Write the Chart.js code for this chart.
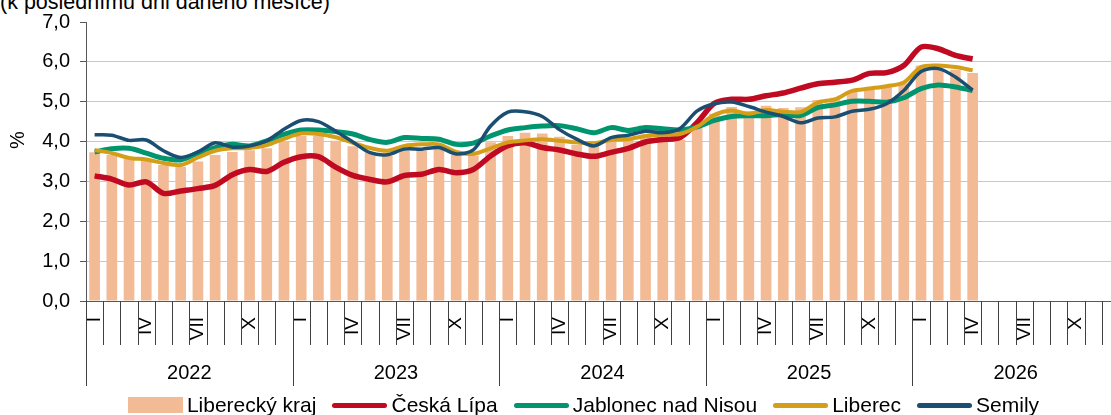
<!DOCTYPE html>
<html lang="cs">
<head>
<meta charset="utf-8">
<script src="https://cdn.jsdelivr.net/npm/chart.js@4.4.1/dist/chart.umd.min.js"></script>
<style>
    html, body { margin: 0; padding: 0; background: #fff; overflow: hidden; width: 1111px; height: 415px; }
    #wrap { position: absolute; left: 0; top: 0; width: 1190px; height: 415px; }
    #podtitul { position: absolute; left: 0; top: -10px; font: 21.5px "Liberation Sans", Arial, sans-serif; white-space: nowrap; color: #000; }
    #legenda { position: absolute; left: 0; top: 394px; width: 1167px; display: flex; justify-content: center; gap: 16px;
               font: 21px "Liberation Sans", Arial, sans-serif; line-height: 22px; color: #000; }
    #legenda span.pol { display: flex; align-items: center; gap: 4px; white-space: nowrap; }
    #legenda i { display: inline-block; width: 55px; }
</style>
</head>
<body>
<div id="podtitul">(k poslednímu dni daného měsíce)</div>
<div id="wrap"><canvas id="graf"></canvas></div>
<div id="legenda"></div>
<script>
// Podíl nezaměstnaných osob (%), měsíčně 2022 - 2026
const roky = ['2022', '2023', '2024', '2025', '2026'];
const mesice = ['I', '', '', 'IV', '', '', 'VII', '', '', 'X', '', ''];

const kraj = [
    3.73, 3.66, 3.57, 3.53, 3.41, 3.37, 3.50, 3.66, 3.74, 3.78, 3.83, 4.00,
    4.14, 4.14, 4.02, 3.88, 3.73, 3.65, 3.77, 3.77, 3.85, 3.66, 3.65, 3.98,
    4.14, 4.22, 4.20, 4.12, 3.92, 3.88, 4.05, 4.10, 4.17, 4.15, 4.05, 4.35,
    4.70, 4.87, 4.76, 4.90, 4.84, 4.86, 5.04, 5.10, 5.27, 5.31, 5.40, 5.46,
    5.91, 5.82, 5.80, 5.72
];
const ceskaLipa = [
    3.14, 3.06, 2.91, 2.99, 2.70, 2.76, 2.82, 2.90, 3.17, 3.30, 3.25, 3.48,
    3.62, 3.62, 3.36, 3.15, 3.05, 2.99, 3.15, 3.18, 3.30, 3.22, 3.30, 3.64,
    3.90, 3.97, 3.85, 3.79, 3.69, 3.63, 3.73, 3.83, 3.99, 4.05, 4.10, 4.48,
    4.96, 5.06, 5.06, 5.15, 5.22, 5.34, 5.45, 5.49, 5.54, 5.71, 5.73, 5.91,
    6.37, 6.33, 6.16, 6.07
];
const jablonec = [
    3.74, 3.82, 3.83, 3.71, 3.58, 3.54, 3.71, 3.85, 3.93, 3.89, 4.02, 4.18,
    4.29, 4.29, 4.25, 4.19, 4.05, 3.98, 4.10, 4.08, 4.06, 3.93, 3.96, 4.14,
    4.29, 4.35, 4.39, 4.40, 4.32, 4.22, 4.35, 4.28, 4.35, 4.32, 4.29, 4.37,
    4.53, 4.63, 4.65, 4.65, 4.68, 4.65, 4.85, 4.92, 5.01, 5.01, 4.99, 5.10,
    5.33, 5.42, 5.37, 5.28
];
const liberec = [
    3.79, 3.71, 3.59, 3.55, 3.46, 3.41, 3.60, 3.77, 3.83, 3.84, 3.91, 4.07,
    4.20, 4.19, 4.11, 3.97, 3.84, 3.77, 3.89, 3.93, 3.93, 3.74, 3.69, 3.83,
    3.98, 4.03, 4.06, 4.02, 3.98, 3.96, 4.04, 4.06, 4.14, 4.18, 4.19, 4.37,
    4.67, 4.78, 4.70, 4.79, 4.75, 4.74, 4.98, 5.06, 5.27, 5.33, 5.39, 5.48,
    5.87, 5.91, 5.87, 5.79
];
const semily = [
    4.17, 4.16, 4.03, 4.04, 3.77, 3.60, 3.74, 3.97, 3.86, 3.89, 4.02, 4.31,
    4.53, 4.50, 4.26, 3.99, 3.72, 3.67, 3.81, 3.81, 3.85, 3.69, 3.79, 4.39,
    4.74, 4.75, 4.63, 4.30, 4.06, 3.89, 4.10, 4.16, 4.26, 4.22, 4.33, 4.77,
    4.95, 4.99, 4.88, 4.74, 4.63, 4.47, 4.59, 4.62, 4.76, 4.81, 4.95, 5.28,
    5.76, 5.83, 5.62, 5.29
];

const FONT = '"Liberation Sans", Arial, sans-serif';
const labels = roky.flatMap(r => mesice.map((m, i) => (i + 1) + '/' + r));
const doplnit = a => a.concat(Array(labels.length - a.length).fill(null));

function cara(label, data, color, width, order) {
    return {
        type: 'line', label, data: doplnit(data),
        borderColor: color, backgroundColor: color, borderWidth: width,
        pointRadius: 0, tension: 0.3, fill: false, order
    };
}

const datasets = [
    { type: 'bar', label: 'Liberecký kraj', data: doplnit(kraj), backgroundColor: '#F2BB96',
      borderWidth: 0, barPercentage: 0.62, categoryPercentage: 1, order: 5 },
    cara('Česká Lípa', ceskaLipa, '#C00A22', 5.5, 4),
    cara('Jablonec nad Nisou', jablonec, '#00956E', 5, 3),
    cara('Liberec', liberec, '#D49E18', 4, 2),
    cara('Semily', semily, '#1B4F72', 3.5, 1)
];

// Popisky pod osou x: dělící čárky mezi měsíci, roky, titulek osy y
const kalendar = {
    id: 'kalendar',
    afterDraw(chart) {
        const { ctx, chartArea } = chart;
        const x = chart.scales.x;
        const krok = x.getPixelForValue(1) - x.getPixelForValue(0);
        const spodek = chartArea.bottom;
        ctx.save();
        ctx.strokeStyle = '#404040';
        ctx.lineWidth = 1;
        for (let i = 0; i <= labels.length; i++) {
            const px = Math.round(x.getPixelForValue(0) + (i - 0.5) * krok) + 0.5;
            ctx.beginPath();
            ctx.moveTo(px, spodek);
            ctx.lineTo(px, spodek + (i % 12 === 0 ? 85 : 44));
            ctx.stroke();
        }
        ctx.fillStyle = '#000';
        ctx.font = '20px ' + FONT;
        ctx.textAlign = 'center';
        ctx.textBaseline = 'middle';
        roky.forEach((r, k) => {
            const stred = (x.getPixelForValue(k * 12) + x.getPixelForValue(k * 12 + 11)) / 2;
            ctx.fillText(r, stred, spodek + 72);
        });
        ctx.translate(18, 140);
        ctx.rotate(-Math.PI / 2);
        ctx.fillText('%', 0, 0);
        ctx.restore();
    }
};

new Chart(document.getElementById('graf'), {
    data: { labels, datasets },
    options: {
        responsive: true,
        maintainAspectRatio: false,
        animation: false,
        layout: { padding: { left: 0, right: 71, top: 18, bottom: 0 } },
        plugins: { legend: { display: false }, tooltip: { enabled: false } },
        scales: {
            x: {
                grid: { display: false },
                border: { display: true, color: '#595959' },
                ticks: {
                    autoSkip: false, minRotation: 90, maxRotation: 90, padding: 8,
                    color: '#000', font: { family: FONT, size: 19 },
                    callback: (v, i) => mesice[i % 12]
                },
                afterFit: s => { s.height = 114; }
            },
            y: {
                min: 0, max: 7,
                border: { color: '#595959' },
                grid: {
                    color: c => c.tick.value === 7 ? 'rgba(0,0,0,0)' : '#C8C8C8',
                    tickLength: 6, tickColor: '#595959'
                },
                ticks: {
                    stepSize: 1, padding: 10, color: '#000', font: { family: FONT, size: 20 },
                    callback: v => v.toFixed(1).replace('.', ',')
                },
                afterFit: s => { s.width = 86; }
            }
        }
    },
    plugins: [kalendar]
});

// Legenda
const legenda = document.getElementById('legenda');
datasets.forEach(d => {
    const pol = document.createElement('span');
    pol.className = 'pol';
    const znacka = document.createElement('i');
    znacka.style.height = d.type === 'bar' ? '16px' : '5px';
    znacka.style.background = d.type === 'bar' ? d.backgroundColor : d.borderColor;
    if (d.type !== 'bar') znacka.style.borderRadius = '3px';
    pol.appendChild(znacka);
    pol.appendChild(document.createTextNode(d.label));
    legenda.appendChild(pol);
});
</script>
</body>
</html>
